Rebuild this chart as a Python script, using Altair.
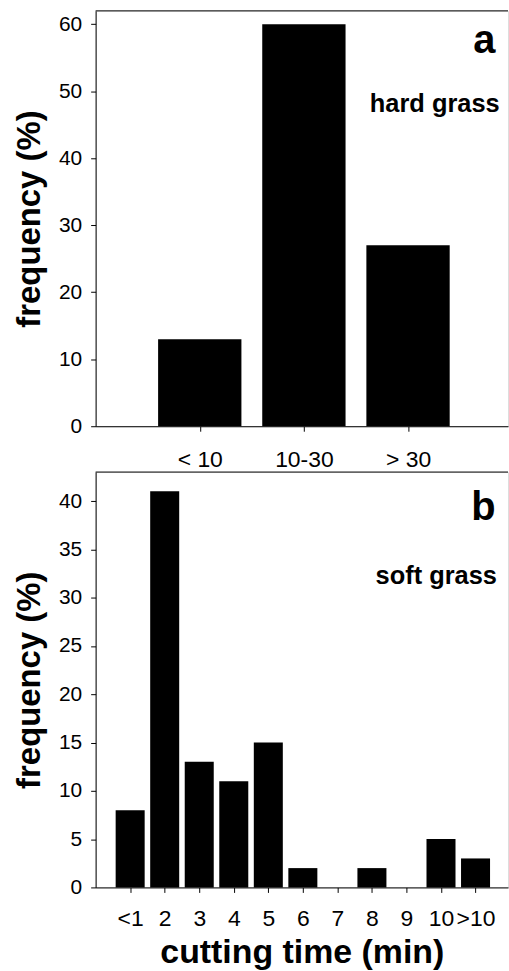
import altair as alt
import pandas as pd

# ---- data ----
hard_labels = ["< 10", "10-30", "> 30"]
hard_values = [13, 60, 27]

soft_labels = ["<1", "2", "3", "4", "5", "6", "7", "8", "9", "10", ">10"]
soft_values = [8, 41, 13, 11, 15, 2, 0, 2, 0, 5, 3]

panel_letters = ["a", "b"]
panel_names = ["hard grass", "soft grass"]
# annotation anchor positions in data units (x in category slots, y in %)
letter_x = [3.84, 11.58]
letter_y = [55.7, 38.0]
name_x = [3.88, 11.62]
name_y = [46.9, 31.4]

y_max = [62, 43]
y_step = [10, 5]
x_max = [3.96, 11.94]
bar_frac = [0.80, 0.84]
x_label_pad = [17, 15]

FONT = "Liberation Sans"
W = 414
H = 417


def panel(i, labels, values, x_title):
    n = len(labels)
    df = pd.DataFrame({"pos": list(range(1, n + 1)), "label": labels, "value": values})
    half = bar_frac[i] / 2
    x_scale = alt.Scale(domain=[0, x_max[i]], nice=False, zero=False)
    y_scale = alt.Scale(domain=[0, y_max[i]], nice=False)
    label_expr = "[" + ",".join(["''"] + ["'" + l + "'" for l in labels]) + "][datum.value]"

    x_axis_kw = dict(
        values=list(range(1, n + 1)),
        labelExpr=label_expr,
        grid=False,
        tickSize=5,
        labelPadding=x_label_pad[i],
        labelFontSize=23,
        labelFont=FONT,
        labelColor="black",
        labelAngle=0,
        labelOverlap=False,
        labelFlush=False,
        domainColor="black",
        tickColor="black",
    )
    if x_title:
        x_axis = alt.Axis(title=x_title, titleFont=FONT, titleFontSize=34,
                          titleFontWeight="bold", titleColor="black",
                          titlePadding=5, **x_axis_kw)
    else:
        x_axis = alt.Axis(title="", **x_axis_kw)

    y_axis = alt.Axis(
        title="frequency (%)",
        titleFont=FONT,
        titleFontSize=33,
        titleFontWeight="bold",
        titleColor="black",
        titlePadding=12,
        values=list(range(0, y_max[i] + 1, y_step[i])),
        grid=False,
        tickSize=5,
        labelPadding=9,
        labelFont=FONT,
        labelFontSize=21,
        labelColor="black",
        domainColor="black",
        tickColor="black",
    )

    bars = alt.Chart(df).transform_calculate(
        x0=f"datum.pos - {half}", x1=f"datum.pos + {half}", base="0"
    ).mark_rect(color="black").encode(
        x=alt.X("x0:Q", scale=x_scale, axis=x_axis),
        x2="x1:Q",
        y=alt.Y("value:Q", scale=y_scale, axis=y_axis),
        y2="base:Q",
    )

    ann = pd.DataFrame({
        "tx": [letter_x[i], name_x[i]],
        "ty": [letter_y[i], name_y[i]],
        "text": [panel_letters[i], panel_names[i]],
        "size": [40, 25.5],
    })
    texts = alt.Chart(ann).mark_text(
        align="right", baseline="alphabetic", font=FONT, fontWeight="bold", color="black"
    ).encode(
        x=alt.X("tx:Q", scale=x_scale),
        y=alt.Y("ty:Q", scale=y_scale),
        text="text:N",
        size=alt.Size("size:Q", scale=None, legend=None),
    )

    border = alt.Chart(pd.DataFrame({"k": [0]})).mark_rule(color="black", strokeWidth=1).encode(
        x=alt.value(0), x2=alt.value(W), y=alt.value(0)
    )

    return alt.layer(bars, texts, border).properties(width=W, height=H)


top = panel(0, hard_labels, hard_values, None)
bottom = panel(1, soft_labels, soft_values, "cutting time (min)")

chart = alt.vconcat(top, bottom, spacing=-3).properties(
    padding={"left": 13, "top": 8, "right": 0, "bottom": 0}
).configure_view(strokeWidth=0, stroke="transparent").configure(background="white")

chart.save("out.html", embed_options={"renderer": "svg", "actions": False})
